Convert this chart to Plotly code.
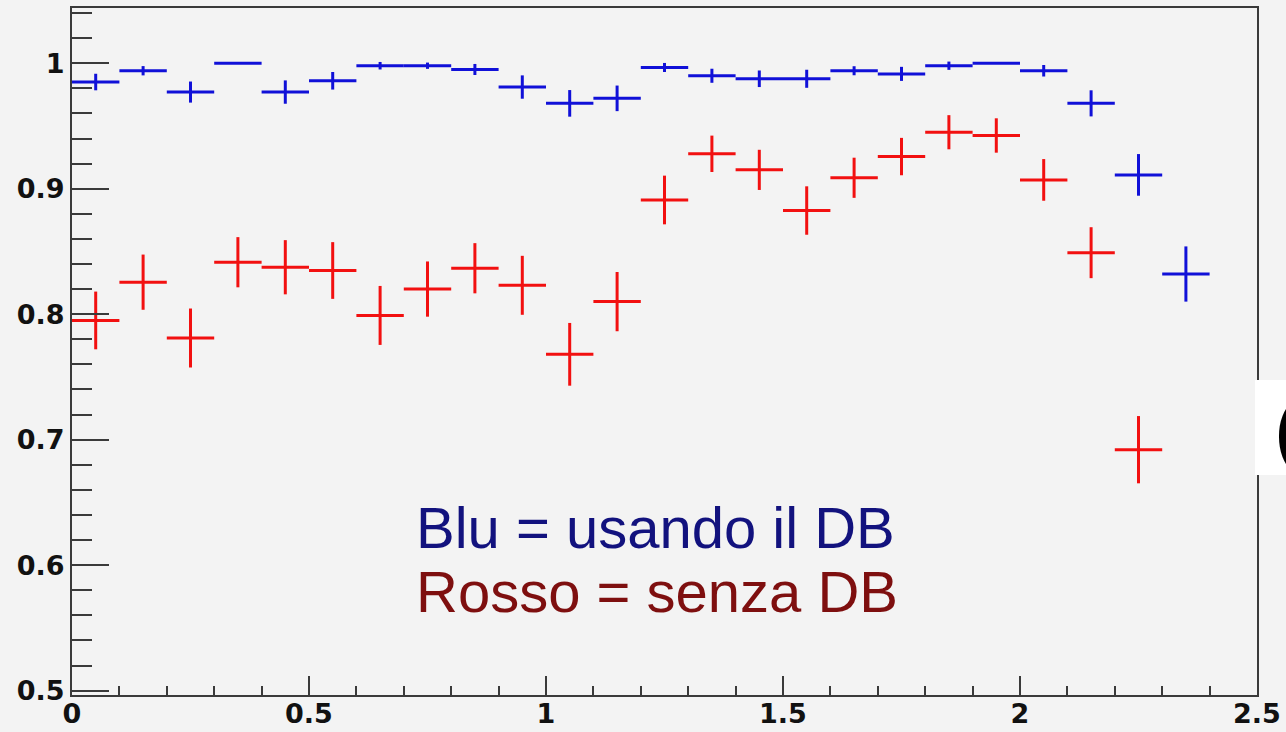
import plotly.graph_objects as go

# Bin centres (bin width 0.1)
bin_centers_blue = [0.05, 0.15, 0.25, 0.35, 0.45, 0.55, 0.65, 0.75, 0.85, 0.95,
                    1.05, 1.15, 1.25, 1.35, 1.45, 1.55, 1.65, 1.75, 1.85, 1.95,
                    2.05, 2.15, 2.25, 2.35]
bin_centers_red = bin_centers_blue[:23]
bin_half_width = 0.05

# Efficiency with the DB
eff_blue = [0.985, 0.994, 0.977, 1.000, 0.977, 0.986, 0.998, 0.998, 0.995, 0.981,
            0.968, 0.972, 0.9966, 0.990, 0.9876, 0.9876, 0.994, 0.9915, 0.998, 1.000,
            0.994, 0.968, 0.911, 0.832]
err_blue = [0.0066, 0.0037, 0.0084, 0.0, 0.0093, 0.0070, 0.0030, 0.0025, 0.0044, 0.0093,
            0.0106, 0.0102, 0.0036, 0.0056, 0.0066, 0.0072, 0.0036, 0.0056, 0.0033, 0.0,
            0.0046, 0.0104, 0.0166, 0.0220]

# Efficiency without the DB
eff_red = [0.795, 0.8255, 0.781, 0.8414, 0.8374, 0.8348, 0.799, 0.820, 0.8366, 0.823,
           0.768, 0.810, 0.891, 0.9278, 0.915, 0.8826, 0.9087, 0.9256, 0.945, 0.9424,
           0.907, 0.849, 0.692]
err_red = [0.0230, 0.0220, 0.0235, 0.0200, 0.0216, 0.0226, 0.0235, 0.0220, 0.0200, 0.0235,
           0.0250, 0.0236, 0.0194, 0.0145, 0.0160, 0.0193, 0.0160, 0.0149, 0.0136, 0.0137,
           0.0166, 0.0203, 0.0268]

x_tick_vals = [0, 0.5, 1, 1.5, 2, 2.5]
x_tick_text = ["0", "0.5", "1", "1.5", "2", "2.5"]
y_tick_vals = [0.5, 0.6, 0.7, 0.8, 0.9, 1.0]
y_tick_text = ["0.5", "0.6", "0.7", "0.8", "0.9", "1"]

label_blue = "Blu = usando il DB"
label_red = "Rosso = senza DB"

BG = "#f3f3f3"
AXIS = "#3a3a3a"


def hist_trace(x, y, err, color):
    return go.Scatter(
        x=x, y=y, mode="markers",
        marker=dict(size=0.1, color=color, opacity=0),
        error_x=dict(type="data", array=[bin_half_width] * len(x),
                     width=0, thickness=3, color=color),
        error_y=dict(type="data", array=err, width=0, thickness=3, color=color),
        showlegend=False, hoverinfo="x+y",
    )


fig = go.Figure()
fig.add_trace(hist_trace(bin_centers_red, eff_red, err_red, "#f21010"))
fig.add_trace(hist_trace(bin_centers_blue, eff_blue, err_blue, "#1010d8"))

tick_font = dict(family="DejaVu Sans", size=27, color="#111111", weight="bold")

fig.update_layout(
    width=1286, height=732,
    margin=dict(l=72, r=29, t=8, b=37),
    paper_bgcolor=BG, plot_bgcolor=BG,
    xaxis=dict(
        range=[0, 2.5], tickvals=x_tick_vals, ticktext=x_tick_text,
        ticks="inside", ticklen=19, tickwidth=2, tickcolor=AXIS,
        minor=dict(dtick=0.1, ticks="inside", ticklen=9, tickwidth=2, tickcolor=AXIS),
        showgrid=False, zeroline=False,
        showline=True, linecolor=AXIS, linewidth=2, mirror=True,
        tickfont=tick_font, automargin=False, ticklabelstandoff=-6,
    ),
    yaxis=dict(
        range=[0.4965, 1.044], tickvals=y_tick_vals, ticktext=y_tick_text,
        ticks="inside", ticklen=37, tickwidth=2, tickcolor=AXIS,
        minor=dict(dtick=0.02, ticks="inside", ticklen=20, tickwidth=2, tickcolor=AXIS),
        showgrid=False, zeroline=False,
        showline=True, linecolor=AXIS, linewidth=2, mirror=True,
        tickfont=tick_font, automargin=False,
    ),
)

fig.add_annotation(
    text=label_blue, x=0.722, y=0.63, xref="x", yref="y",
    xanchor="left", yanchor="middle", showarrow=False,
    font=dict(family="Liberation Sans", size=58, color="#12127e"),
)
fig.add_annotation(
    text=label_red, x=0.722, y=0.579, xref="x", yref="y",
    xanchor="left", yanchor="middle", showarrow=False,
    font=dict(family="Liberation Sans", size=58, color="#7e0f0f"),
)

# Partially visible text box on the right edge
fig.add_shape(type="rect", xref="paper", yref="paper",
              x0=(1255 - 72) / 1185, x1=(1290 - 72) / 1185,
              y0=(695 - 475) / 687, y1=(695 - 380) / 687,
              fillcolor="white", line=dict(width=0), layer="above")
fig.add_annotation(
    text="(", xref="paper", yref="paper",
    x=(1272 - 72) / 1185, y=(695 - 430) / 687,
    xanchor="left", yanchor="middle", showarrow=False,
    font=dict(family="Liberation Sans", size=80, color="black"),
)

fig.write_html("out.html")
